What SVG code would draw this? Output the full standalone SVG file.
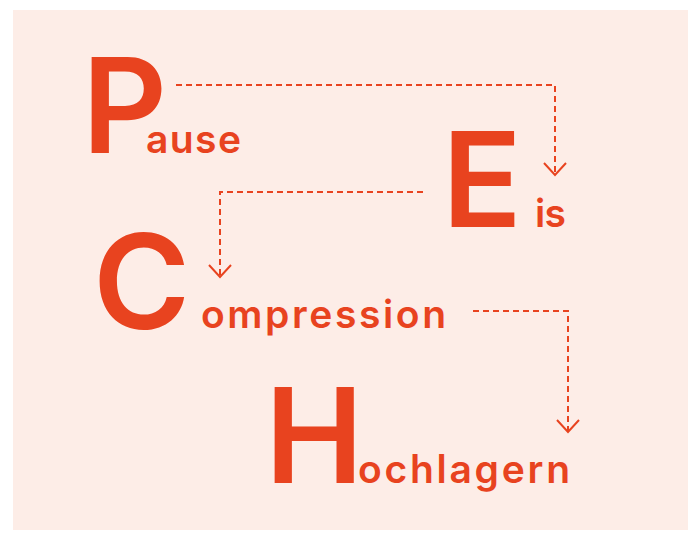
<svg xmlns="http://www.w3.org/2000/svg" width="692" height="533" viewBox="0 0 692 533">
<style>
.big{font-family:Inter,"Liberation Sans",sans-serif;font-weight:600;font-size:132px;fill:#E8431F}
.sm{font-family:Inter,"Liberation Sans",sans-serif;font-weight:600;font-size:39px;fill:#E8431F}
.con{fill:none;stroke:#E8431F;stroke-width:2;stroke-dasharray:6 4}
.head{fill:none;stroke:#E8431F;stroke-width:2}
</style>
<rect x="13" y="10" width="675" height="520" fill="#FDEDE7"/>
<g id="pause"><text class="big" x="82" y="153">P</text><text class="sm" x="146" y="153" textLength="95">ause</text></g>
<g id="eis"><text class="big" x="442" y="227">E</text><text class="sm" x="535" y="227" textLength="31">is</text></g>
<g id="compression"><text class="big" x="93" y="329">C</text><text class="sm" x="201" y="328" textLength="245">ompression</text></g>
<g id="hochlagern"><text class="big" x="265" y="483">H</text><text class="sm" x="358" y="483" textLength="212">ochlagern</text></g>
<g id="connectors">
<path class="con" d="M176 85 H555 V174"/>
<path class="head" d="M544 163 L555 175 L566 163"/>
<path class="con" d="M423 192 H220 V276"/>
<path class="head" d="M209 265 L220 277 L231 265"/>
<path class="con" d="M473 311 H568 V431"/>
<path class="head" d="M557 420 L568 432 L579 420"/>
</g>
</svg>
